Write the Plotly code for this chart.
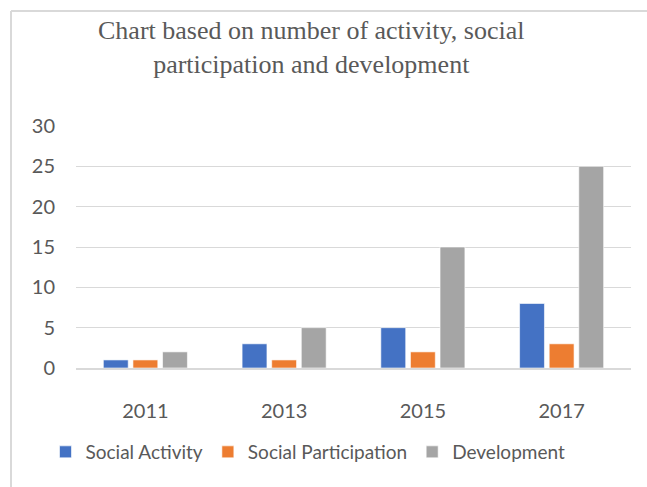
import plotly.graph_objects as go

years = ["2011", "2013", "2015", "2017"]
social_activity = [1, 3, 5, 8]
social_participation = [1, 1, 2, 3]
development = [2, 5, 15, 25]

title_text = "Chart based on number of activity, social<br>participation and development"

series = [
    ("Social Activity", social_activity, "#4472C4"),
    ("Social Participation", social_participation, "#ED7D31"),
    ("Development", development, "#A5A5A5"),
]

fig = go.Figure()
for name, vals, col in series:
    fig.add_trace(go.Bar(x=years, y=vals, name=name, marker_color=col,
                         marker_line_color="rgba(255,255,255,0.6)", marker_line_width=1))

L, R, T, B = 76, 16, 126, 119
W, H = 647, 487
pw, ph = W - L - R, H - T - B

def px(x):
    return (x - L) / pw

def py(y):
    return (H - B - y) / ph

fig.update_layout(
    width=W, height=H,
    margin=dict(l=L, r=R, t=T, b=B, autoexpand=False),
    paper_bgcolor="white", plot_bgcolor="white",
    barmode="group", bargap=0.36, bargroupgap=0.16,
    font=dict(family="Lato", size=20, color="#595959"),
    showlegend=True,
    legend=dict(orientation="h", xref="container", yref="container",
                x=308 / W, y=(H - 452) / H, xanchor="center", yanchor="middle",
                font=dict(size=19, color="#595959"), traceorder="normal", itemwidth=30),
    annotations=[
        dict(text=title_text, xref="paper", yref="paper", x=px(311), y=py(48),
             xanchor="center", yanchor="middle", showarrow=False, align="center",
             font=dict(family="Liberation Serif", size=26, color="#595959")),
    ],
    shapes=[
        dict(type="line", xref="paper", yref="paper", x0=px(11), x1=px(647), y0=py(11), y1=py(11),
             line=dict(color="#D9D9D9", width=2)),
        dict(type="line", xref="paper", yref="paper", x0=px(11), x1=px(11), y0=py(11), y1=py(487),
             line=dict(color="#D9D9D9", width=2)),
    ],
)
fig.update_yaxes(range=[0, 30], dtick=5, showgrid=True, gridcolor="#D9D9D9", gridwidth=1,
                 zeroline=False, showline=False, ticklabelstandoff=20,
                 tickfont=dict(size=20, color="#595959"))
fig.update_xaxes(showgrid=False, showline=True, linecolor="#D9D9D9", linewidth=2,
                 ticklabelstandoff=24, tickfont=dict(size=20, color="#595959"))

fig.write_html("out.html", config={"displayModeBar": False},
               post_script=("document.documentElement.style.overflow='hidden';"
                            "document.body.style.margin='0';document.body.style.overflow='hidden';"))
